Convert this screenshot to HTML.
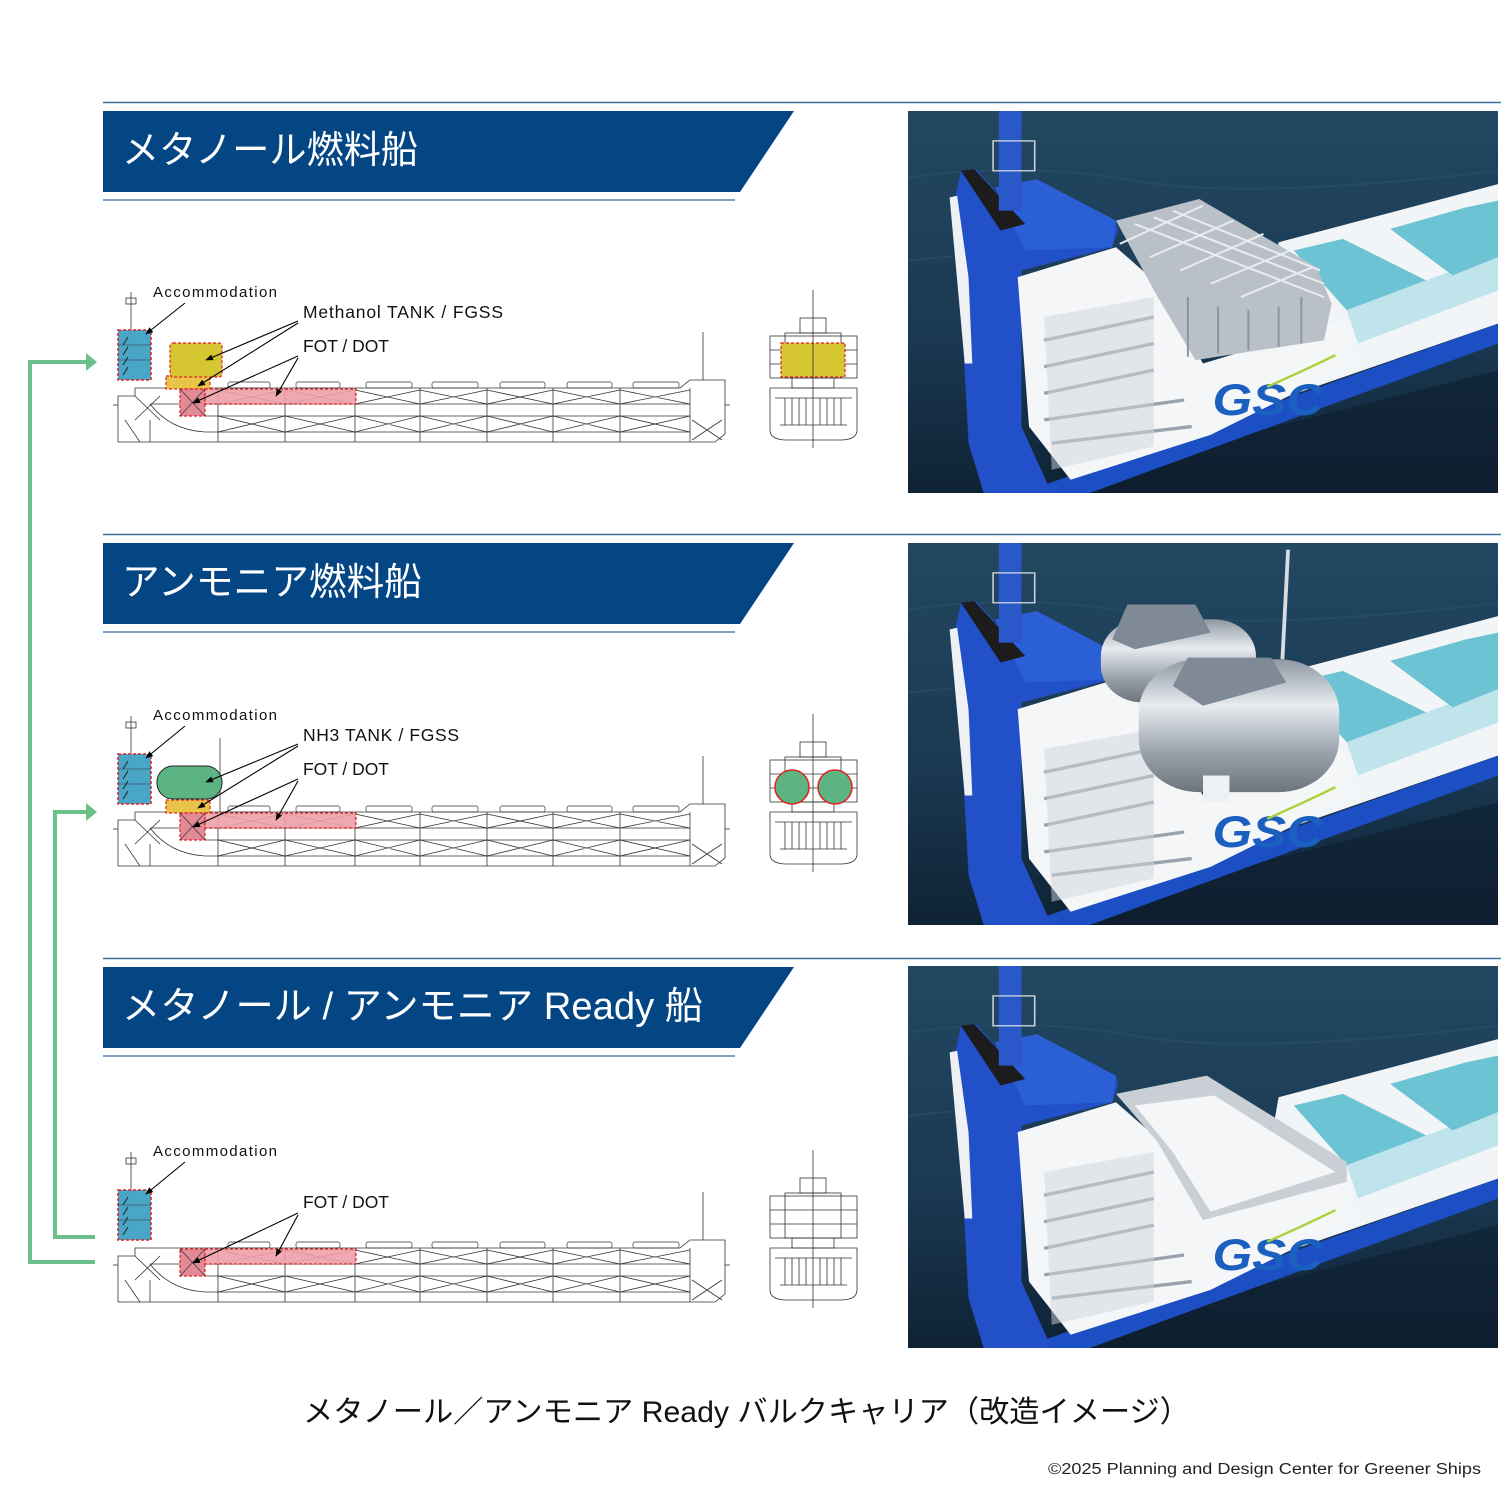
<!DOCTYPE html>
<html><head><meta charset="utf-8"><style>
html,body{margin:0;padding:0;background:#fff}
svg{display:block}
text{font-family:"Liberation Sans","Noto Sans CJK JP",sans-serif}
</style></head><body>
<svg width="1501" height="1492" viewBox="0 0 1501 1492" xmlns="http://www.w3.org/2000/svg">
<defs>
<linearGradient id="sea" x1="0" y1="0" x2="0" y2="1"><stop offset="0" stop-color="#234862"/><stop offset="0.6" stop-color="#1a3852"/><stop offset="1" stop-color="#0f2234"/></linearGradient>
<linearGradient id="cyl" x1="0" y1="0" x2="0" y2="1"><stop offset="0" stop-color="#8f98a3"/><stop offset="0.35" stop-color="#e8ecf0"/><stop offset="0.7" stop-color="#9aa2ac"/><stop offset="1" stop-color="#6d747d"/></linearGradient>
<marker id="ah" viewBox="0 0 10 10" refX="9" refY="5" markerWidth="7" markerHeight="7" orient="auto"><path d="M0,1 L10,5 L0,9 z" fill="#000"/></marker>

<g id="hull" fill="none" stroke="#333" stroke-width="0.8">
  <polyline points="118,442 118,396 135,396 135,388 680,388 690,380 725,380 725,434 715,442 118,442"/>
  <line x1="150" y1="404" x2="690" y2="404"/>
  <line x1="205" y1="416" x2="690" y2="416"/>
  <line x1="205" y1="432" x2="690" y2="432"/>
  <path d="M150,404 Q170,430 205,432"/>
  <line x1="690" y1="388" x2="690" y2="442"/>
  <g>
    <line x1="218" y1="388" x2="218" y2="442"/><line x1="285" y1="388" x2="285" y2="442"/>
    <line x1="355" y1="388" x2="355" y2="442"/><line x1="420" y1="388" x2="420" y2="442"/>
    <line x1="487" y1="388" x2="487" y2="442"/><line x1="553" y1="388" x2="553" y2="442"/>
    <line x1="620" y1="388" x2="620" y2="442"/>
  </g>
  <path d="M218,390 L285,404 M285,390 L218,404 M285,390 L355,404 M355,390 L285,404 M355,390 L420,404 M420,390 L355,404 M420,390 L487,404 M487,390 L420,404 M487,390 L553,404 M553,390 L487,404 M553,390 L620,404 M620,390 L553,404 M620,390 L690,404 M690,390 L620,404"/>
  <path d="M218,416 L285,432 M285,416 L218,432 M285,416 L355,432 M355,416 L285,432 M355,416 L420,432 M420,416 L355,432 M420,416 L487,432 M487,416 L420,432 M487,416 L553,432 M553,416 L487,432 M553,416 L620,432 M620,416 L553,432 M620,416 L690,432 M690,416 L620,432"/>
  <path d="M692,420 L722,440 M722,420 L692,440"/>
  <path d="M135,396 L160,420 M160,396 L135,420 M150,420 L150,442 M125,420 L140,442"/>
  <g stroke-width="0.7">
    <rect x="228" y="382" width="42" height="6" rx="2"/><rect x="296" y="382" width="44" height="6" rx="2"/>
    <rect x="366" y="382" width="46" height="6" rx="2"/><rect x="432" y="382" width="46" height="6" rx="2"/>
    <rect x="500" y="382" width="45" height="6" rx="2"/><rect x="567" y="382" width="45" height="6" rx="2"/>
    <rect x="633" y="382" width="46" height="6" rx="2"/>
  </g>
  <line x1="703" y1="332" x2="703" y2="380"/><line x1="131" y1="292" x2="131" y2="330"/>
  <rect x="126" y="298" width="10" height="6"/>
  <line x1="118" y1="405" x2="113" y2="405"/><line x1="725" y1="405" x2="730" y2="405"/>
</g>
<g id="acc">
  <rect x="118" y="330" width="33" height="50" fill="#4aa6c6" stroke="#e02020" stroke-dasharray="3,2" stroke-width="1.5"/>
  <path d="M123,345 l5,-8 M123,355 l5,-8 M123,365 l5,-8 M123,375 l5,-8" stroke="#222" stroke-width="1"/>
  <line x1="118" y1="345" x2="151" y2="345" stroke="#333" stroke-width="0.5"/>
  <line x1="118" y1="360" x2="151" y2="360" stroke="#333" stroke-width="0.5"/>
  <rect x="180" y="389" width="25" height="27" fill="#e48a96" stroke="#e02020" stroke-dasharray="3,2" stroke-width="1.2"/>
  <rect x="205" y="389" width="151" height="15" fill="#f0a0a8" fill-opacity="0.9" stroke="#e02020" stroke-dasharray="3,2" stroke-width="1.2"/>
  <path d="M180,389 L205,416 M205,389 L180,416" stroke="#333" stroke-width="0.7"/>
</g>
<g id="xs" fill="none" stroke="#333" stroke-width="0.8">
  <line x1="813" y1="290" x2="813" y2="448"/>
  <rect x="800" y="318" width="26" height="15"/>
  <rect x="785" y="333" width="56" height="45"/>
  <rect x="770" y="336" width="87" height="42"/>
  <line x1="770" y1="350" x2="857" y2="350"/><line x1="770" y1="364" x2="857" y2="364"/>
  <rect x="792" y="378" width="42" height="10"/>
  <path d="M770,388 L857,388 L857,430 Q857,440 840,440 L787,440 Q770,440 770,430 Z"/>
  <path d="M775,398 L852,398 M780,425 L847,425"/>
  <path d="M785,398 V425 M792,398 V425 M799,398 V425 M806,398 V425 M820,398 V425 M827,398 V425 M834,398 V425 M841,398 V425"/>
</g>

<g id="photoBase">
  <rect x="0" y="0" width="1560" height="1150" fill="url(#sea)"/>
  <path d="M0,200 Q300,150 600,210 T1560,180 M0,450 Q400,400 800,470 T1560,430" stroke="#2e5878" stroke-width="6" fill="none" opacity="0.4"/>
  <path d="M800,1000 L1560,780 L1560,1150 L500,1150 Z" fill="#0b1a28" opacity="0.5"/>
  <polygon points="980,395 1560,220 1560,640 900,900" fill="#f2f5f7"/>
  <polygon points="1020,420 1150,385 1370,510 1160,600" fill="#6cc3d3"/>
  <polygon points="1160,600 1370,510 1560,430 1560,540 1190,700" fill="#bfe4ec"/>
  <polygon points="1275,355 1475,290 1560,270 1560,440 1440,495" fill="#6cc3d3"/>
  <polygon points="300,1150 1560,640 1560,700 480,1150" fill="#1d4fc4"/>
  <polygon points="125,260 140,180 180,175 310,340 550,330 555,360 540,410 300,480 300,950 380,1150 200,1150 160,1000" fill="#2150c8"/>
  <polygon points="230,230 340,205 550,330 540,410 310,420" fill="#2a5fd6"/>
  <polygon points="140,180 175,175 310,340 245,360" fill="#1c1c1c"/>
  <rect x="240" y="0" width="60" height="300" fill="#2a58c8"/>
  <rect x="225" y="90" width="110" height="90" fill="none" stroke="#d0d6de" stroke-width="4"/>
  <polygon points="290,500 550,410 660,520 780,760 1160,630 1180,760 800,975 430,1110 320,950" fill="#f4f6f8"/>
  <g stroke="#9aa3ad" stroke-width="10" fill="none">
    <path d="M360,690 L650,620 M360,770 L650,700 M360,850 L650,780 M360,930 L730,870 M380,1000 L750,950"/>
  </g>
  <polygon points="360,620 650,560 650,1010 380,1080" fill="#cfd5db" opacity="0.5"/>
  <polygon points="110,260 130,255 160,500 170,760 150,760" fill="#eef1f4"/>
  <text x="805" y="915" font-size="135" font-weight="bold" font-style="italic" fill="#1b5fbf" style="font-family:'Liberation Sans',sans-serif">GSC</text>
  <path d="M950,830 Q1050,780 1130,735" stroke="#a8d23a" stroke-width="7" fill="none"/>
</g>
</defs>

<g>
  <line x1="103" y1="102.5" x2="1501" y2="102.5" stroke="#3e6f9e" stroke-width="1.5"/>
  <polygon points="103,111 794,111 740,192 103,192" fill="#034683"/>
  <line x1="103" y1="200" x2="735" y2="200" stroke="#7ea0c0" stroke-width="2"/>
  <text x="122" y="163" font-size="38" fill="#fff" textLength="296" lengthAdjust="spacingAndGlyphs">メタノール燃料船</text>

  <line x1="103" y1="534.5" x2="1501" y2="534.5" stroke="#3e6f9e" stroke-width="1.5"/>
  <polygon points="103,543 794,543 740,624 103,624" fill="#034683"/>
  <line x1="103" y1="632" x2="735" y2="632" stroke="#7ea0c0" stroke-width="2"/>
  <text x="122" y="595" font-size="38" fill="#fff" textLength="300" lengthAdjust="spacingAndGlyphs">アンモニア燃料船</text>

  <line x1="103" y1="958.5" x2="1501" y2="958.5" stroke="#3e6f9e" stroke-width="1.5"/>
  <polygon points="103,967 794,967 740,1048 103,1048" fill="#034683"/>
  <line x1="103" y1="1056" x2="735" y2="1056" stroke="#7ea0c0" stroke-width="2"/>
  <text x="122" y="1019" font-size="38" fill="#fff" textLength="581" lengthAdjust="spacingAndGlyphs">メタノール / アンモニア Ready 船</text>
</g>

<use href="#hull"/><use href="#xs"/>
<rect x="166" y="376" width="44" height="13" fill="#e8c44a" stroke="#e02020" stroke-dasharray="3,2" stroke-width="1.2"/>
<rect x="170" y="343" width="52" height="34" rx="3" fill="#d6c631" stroke="#e02020" stroke-dasharray="3,2" stroke-width="1.2"/>
<rect x="781" y="343" width="64" height="34" fill="#d6c631" stroke="#e02020" stroke-dasharray="3,2" stroke-width="1.2"/>
<line x1="813" y1="343" x2="813" y2="377" stroke="#333" stroke-width="0.8"/>
<use href="#acc"/>
<text x="153" y="297" font-size="15" fill="#111" textLength="124">Accommodation</text>
<text x="303" y="318" font-size="17.5" fill="#111" textLength="200">Methanol TANK / FGSS</text>
<text x="303" y="352" font-size="17.5" fill="#111" textLength="86">FOT / DOT</text>
<g stroke="#000" stroke-width="1.1" fill="none">
  <line x1="185" y1="303" x2="146" y2="334" marker-end="url(#ah)"/>
  <line x1="298" y1="321" x2="206" y2="360" marker-end="url(#ah)"/>
  <line x1="298" y1="323" x2="198" y2="386" marker-end="url(#ah)"/>
  <line x1="298" y1="356" x2="193" y2="403" marker-end="url(#ah)"/>
  <line x1="298" y1="358" x2="276" y2="396" marker-end="url(#ah)"/>
</g>

<g transform="translate(0,424)">
  <use href="#hull"/><use href="#xs"/>
  <rect x="166" y="376" width="44" height="13" fill="#e8c44a" stroke="#e02020" stroke-dasharray="3,2" stroke-width="1.2"/>
  <line x1="220" y1="314" x2="220" y2="388" stroke="#333" stroke-width="0.8"/>
  <rect x="157" y="342" width="65" height="33" rx="16" fill="#5cb482" stroke="#222" stroke-width="1"/>
  <circle cx="792" cy="363" r="17" fill="#5cb482" stroke="#e02020" stroke-width="1.5"/>
  <circle cx="835" cy="363" r="17" fill="#5cb482" stroke="#e02020" stroke-width="1.5"/>
  <use href="#acc"/>
  <text x="153" y="296" font-size="15" fill="#111" textLength="124">Accommodation</text>
  <text x="303" y="317" font-size="17.5" fill="#111" textLength="156">NH3 TANK / FGSS</text>
  <text x="303" y="351" font-size="17.5" fill="#111" textLength="86">FOT / DOT</text>
  <g stroke="#000" stroke-width="1.1" fill="none">
    <line x1="185" y1="302" x2="146" y2="334" marker-end="url(#ah)"/>
    <line x1="298" y1="320" x2="206" y2="358" marker-end="url(#ah)"/>
    <line x1="298" y1="322" x2="198" y2="384" marker-end="url(#ah)"/>
    <line x1="298" y1="355" x2="193" y2="403" marker-end="url(#ah)"/>
    <line x1="298" y1="357" x2="276" y2="396" marker-end="url(#ah)"/>
  </g>
</g>

<g transform="translate(0,860)">
  <use href="#hull"/><use href="#xs"/>
  <use href="#acc"/>
  <text x="153" y="296" font-size="15" fill="#111" textLength="124">Accommodation</text>
  <text x="303" y="348" font-size="17.5" fill="#111" textLength="86">FOT / DOT</text>
  <g stroke="#000" stroke-width="1.1" fill="none">
    <line x1="185" y1="302" x2="146" y2="334" marker-end="url(#ah)"/>
    <line x1="298" y1="353" x2="193" y2="403" marker-end="url(#ah)"/>
    <line x1="298" y1="355" x2="276" y2="396" marker-end="url(#ah)"/>
  </g>
</g>

<g stroke="#6cc08a" stroke-width="4" fill="none">
  <polyline points="95,1262 30,1262 30,362 88,362"/>
  <polyline points="95,1237 55,1237 55,812 88,812"/>
</g>
<polygon points="86,353 97,362 86,371" fill="#6cc08a"/>
<polygon points="86,803 97,812 86,821" fill="#6cc08a"/>

<svg x="908" y="111" width="590" height="382" viewBox="0 0 1560 1150" preserveAspectRatio="none">
  <use href="#photoBase"/>
  <polygon points="550,330 770,265 1080,470 1120,580 1100,690 760,750 660,560" fill="#b9c0c8"/>
  <g stroke="#e8ecf0" stroke-width="6">
    <path d="M600,340 L1100,560 M650,320 L1100,520 M700,300 L1090,480 M560,400 L780,285 M640,440 L860,330 M720,480 L940,370 M800,520 L1010,420 M880,560 L1070,470"/>
  </g>
  <g stroke="#8a929c" stroke-width="5"><path d="M740,560 V740 M820,590 V730 M900,600 V720 M980,590 V710 M1040,560 V700"/></g>
</svg>
<svg x="908" y="543" width="590" height="382" viewBox="0 0 1560 1150" preserveAspectRatio="none">
  <use href="#photoBase"/>
  <line x1="1005" y1="20" x2="990" y2="350" stroke="#d8dde2" stroke-width="10"/>
  <rect x="510" y="230" width="410" height="250" rx="110" fill="url(#cyl)"/>
  <polygon points="540,290 580,185 760,185 800,270 600,320" fill="#7f8a96"/>
  <rect x="610" y="350" width="530" height="400" rx="160" fill="url(#cyl)"/>
  <polygon points="700,430 740,345 960,345 1000,420 780,490" fill="#7f8a96"/>
  <rect x="780" y="700" width="70" height="80" fill="#eef1f4"/>
</svg>
<svg x="908" y="966" width="590" height="382" viewBox="0 0 1560 1150" preserveAspectRatio="none">
  <use href="#photoBase"/>
  <polygon points="550,385 790,330 1160,590 1160,650 780,765 660,530" fill="#c9cfd5"/>
  <polygon points="600,420 810,390 1130,620 800,740 700,560" fill="#f5f6f8"/>
</svg>

<text x="303" y="1422" font-size="30" fill="#111" textLength="887" lengthAdjust="spacingAndGlyphs">メタノール／アンモニア Ready バルクキャリア（改造イメージ）</text>
<text x="1048" y="1474" font-size="15.5" fill="#222" textLength="433" lengthAdjust="spacingAndGlyphs">©2025 Planning and Design Center for Greener Ships</text>
</svg>
</body></html>
